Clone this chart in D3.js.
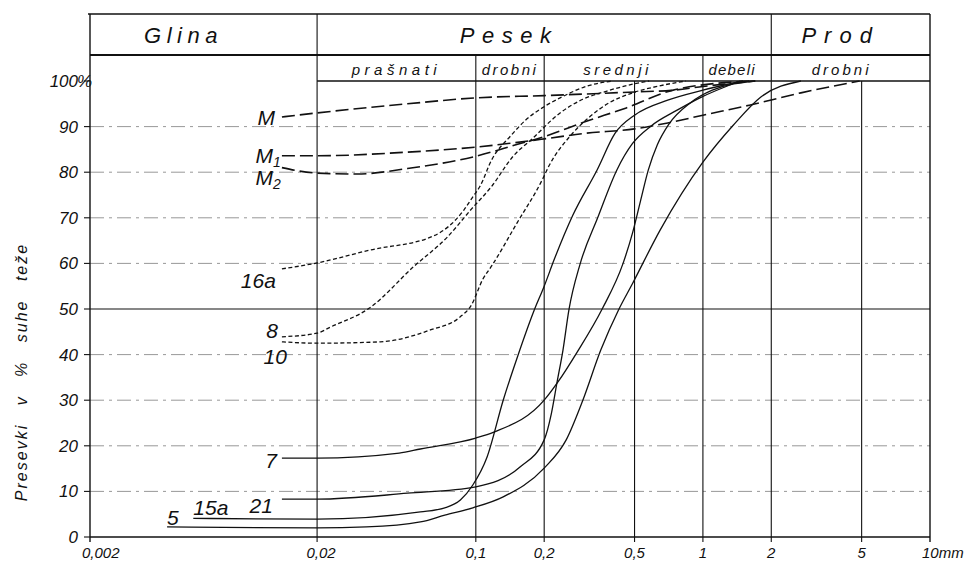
<!DOCTYPE html>
<html><head><meta charset="utf-8">
<script src="https://cdn.jsdelivr.net/npm/d3@7"></script>
<style>
body{margin:0;background:#fff;}
svg{display:block;font-family:"Liberation Sans",Arial,sans-serif;font-style:italic;}
</style></head><body><svg id="c" width="971" height="565"></svg>
<script>
// ---------- data ----------
const xTicks = [0.002, 0.02, 0.1, 0.2, 0.5, 1, 2, 5, 10];
const xTickLabels = ["0,002", "0,02", "0,1", "0,2", "0,5", "1", "2", "5", "10mm"];
const yTicks = [0, 10, 20, 30, 40, 50, 60, 70, 80, 90, 100];
const yTickLabels = ["0", "10", "20", "30", "40", "50", "60", "70", "80", "90", "100"];
const mainCats = ["Glina", "Pesek", "Prod"];
const mainBounds = [0.002, 0.02, 2, 10];
const subCats = ["prašnati", "drobni", "srednji", "debeli", "drobni"];
const subBounds = [0.02, 0.1, 0.2, 1, 2, 10];
const yTitle = "Presevki v % suhe teže";

// grain size (mm), passing (%)
const curveM  = [[0.014,92.1],[0.02,93],[0.05,95],[0.1,96.3],[0.2,96.8],[0.5,97.6],[0.75,98],[1.0,98.8],[1.7,100]];
const curveM1 = [[0.014,83.6],[0.02,83.6],[0.05,84.4],[0.1,85.5],[0.2,87.3],[0.3,88.5],[0.5,89.5],[0.7,90.8],[1.0,92.5],[1.6,94.7],[2.7,97.4],[4.9,100]];
const curveM2 = [[0.014,81],[0.02,79.8],[0.03,79.6],[0.05,80.8],[0.1,83.5],[0.15,86],[0.2,87.8],[0.3,91],[0.46,94.1],[0.74,98],[1.6,100]];
const curve16a = [[0.014,58.8],[0.02,60.1],[0.034,62.9],[0.065,66],[0.0886,71.7],[0.097,74.6],[0.104,76.8],[0.118,82.9],[0.142,87.9],[0.168,91.7],[0.196,94.1],[0.235,96.3],[0.31,98.9],[0.40,100]];
const curve8  = [[0.014,43.9],[0.02,44.7],[0.0228,46],[0.034,50.2],[0.053,59.2],[0.075,65.8],[0.096,72],[0.117,76.8],[0.146,83.5],[0.177,87.3],[0.235,93],[0.296,96],[0.378,97.8],[0.49,99.3],[0.58,100]];
const curve10 = [[0.014,42.8],[0.02,42.5],[0.038,42.8],[0.063,45.4],[0.085,48.2],[0.096,51],[0.107,56.4],[0.118,59.6],[0.152,68.9],[0.196,78.3],[0.21,81.4],[0.26,87.9],[0.32,92.3],[0.38,95],[0.49,97.4],[0.64,98.9],[0.84,100]];
const curve7  = [[0.014,17.3],[0.02,17.3],[0.046,18.4],[0.057,19.3],[0.1,21.7],[0.12,23],[0.2,30],[0.23,34],[0.279,40.5],[0.36,50],[0.445,60],[0.49,66.7],[0.53,73.5],[0.575,80.5],[0.63,86],[0.71,90.6],[0.88,95.2],[1.1,98],[1.7,100]];
const curve21 = [[0.014,8.3],[0.02,8.3],[0.05,9.6],[0.1,11],[0.157,15.4],[0.2,21.3],[0.215,27],[0.228,34],[0.242,41],[0.257,49.8],[0.288,59.9],[0.344,70],[0.418,80.5],[0.49,86.3],[0.59,90.1],[0.77,93.6],[0.97,96.3],[1.46,100]];
const curve15a = [[0.0057,4.1],[0.02,3.9],[0.057,5.5],[0.073,6.4],[0.0855,8.1],[0.097,11.4],[0.112,17.5],[0.132,30],[0.153,39.7],[0.18,49.5],[0.2,55],[0.222,61],[0.267,70.5],[0.342,80.5],[0.41,88.5],[0.5,92.5],[0.7,95.8],[1.0,98],[1.5,100]];
const curve5  = [[0.00437,2.2],[0.02,2],[0.033,2.2],[0.057,3.3],[0.073,4.8],[0.097,6.4],[0.132,8.8],[0.2,15.1],[0.25,21.3],[0.296,30],[0.355,41],[0.425,49.8],[0.49,55.6],[0.648,67.3],[1.0,82.2],[1.36,90.3],[1.8,96.5],[2.7,100]];

const seriesNames = ["M", "M1", "M2", "16a", "8", "10", "7", "21", "15a", "5"];
const seriesData = [curveM, curveM1, curveM2, curve16a, curve8, curve10, curve7, curve21, curve15a, curve5];
const seriesKind = ["long", "long", "long", "short", "short", "short", "solid", "solid", "solid", "solid"];

// ---------- layout ----------
const svg = d3.select("#c");
const x = d3.scaleLog().domain([0.002, 10]).range([90, 930]);
const y = d3.scaleLinear().domain([0, 100]).range([537, 81]);
const TOP = 14, MID = 55;

// grid (dashed horizontal)
svg.append("g").selectAll("line").data(yTicks.filter(v => v > 0 && v < 100 && v !== 50)).join("line")
  .attr("x1", 90).attr("x2", 930).attr("y1", d => y(d)).attr("y2", d => y(d))
  .attr("stroke", "#8c8c8c").attr("stroke-width", 0.9).attr("stroke-dasharray", "14,5,3,5");

const frame = svg.append("g").attr("stroke", "#111").attr("fill", "none");
frame.append("line").attr("x1", 88).attr("x2", 930).attr("y1", TOP).attr("y2", TOP).attr("stroke-width", 1.5);
frame.append("line").attr("x1", 90).attr("x2", 930).attr("y1", MID).attr("y2", MID).attr("stroke-width", 1.8);
frame.append("line").attr("x1", x(0.02)).attr("x2", 930).attr("y1", y(100)).attr("y2", y(100)).attr("stroke-width", 1.3);
frame.append("line").attr("x1", 90).attr("x2", 930).attr("y1", y(50)).attr("y2", y(50)).attr("stroke-width", 1.2);
frame.append("line").attr("x1", 90).attr("x2", 930).attr("y1", y(0)).attr("y2", y(0)).attr("stroke-width", 1.3);
frame.selectAll("line.v").data(xTicks).join("line").attr("class", "v")
  .attr("x1", d => x(d)).attr("x2", d => x(d))
  .attr("y1", d => mainBounds.includes(d) ? TOP : (subBounds.includes(d) ? MID : y(100)))
  .attr("y2", y(0) + 5)
  .attr("stroke-width", d => (d === 0.002 || d === 10) ? 1.4 : 1.1);
frame.selectAll("line.yt").data(yTicks).join("line").attr("class", "yt")
  .attr("x1", 84).attr("x2", 90).attr("y1", d => y(d)).attr("y2", d => y(d)).attr("stroke-width", 1.1);

// y tick labels
const yl = svg.append("g").attr("font-size", 17).attr("fill", "#111");
yl.selectAll("text").data(yTicks).join("text")
  .attr("x", 78).attr("y", d => y(d) + 6).attr("text-anchor", "end")
  .text((d, i) => yTickLabels[i]);
yl.append("text").attr("x", 77).attr("y", y(100) + 6).text("%");

// x tick labels
const xl = svg.append("g").attr("font-size", 15).attr("fill", "#111");
xl.selectAll("text").data(xTicks).join("text")
  .attr("x", (d, i) => (i === 0 || i === xTicks.length - 1) ? x(d) - 8 : x(d) + (i === 1 ? 4 : 0))
  .attr("y", 558)
  .attr("text-anchor", (d, i) => (i === 0 || i === xTicks.length - 1) ? "start" : "middle")
  .text((d, i) => xTickLabels[i]);

// y title
svg.append("text").attr("transform", "translate(27,372) rotate(-90)")
  .attr("text-anchor", "middle").attr("font-size", 16).attr("fill", "#111")
  .attr("letter-spacing", 2).attr("word-spacing", 12).text(yTitle);

// headers
const mainDx = [-20, -35, -10];
const mainLs = [5.5, 7.5, 8];
svg.append("g").attr("font-size", 22).attr("fill", "#111").selectAll("text").data(mainCats).join("text")
  .attr("x", (d, i) => x(Math.sqrt(mainBounds[i] * mainBounds[i + 1])) + mainDx[i])
  .attr("y", 43).attr("text-anchor", "middle").attr("letter-spacing", (d, i) => mainLs[i]).text(d => d);
const subDx = [0, 0, -6, -5, -9];
const subLs = [4.5, 2.5, 3.5, 1.2, 3];
svg.append("g").attr("font-size", 15).attr("fill", "#111").selectAll("text").data(subCats).join("text")
  .attr("x", (d, i) => x(Math.sqrt(subBounds[i] * subBounds[i + 1])) + subDx[i])
  .attr("y", 75).attr("text-anchor", "middle").attr("letter-spacing", (d, i) => subLs[i]).text(d => d);

// curves
const line = d3.line().x(d => x(d[0])).y(d => y(d[1])).curve(d3.curveMonotoneX);
const styles = {
  long: {w: 1.6, dash: "13,5"},
  short: {w: 1.3, dash: "4,2.5"},
  solid: {w: 1.3, dash: null}
};
svg.append("g").selectAll("path").data(seriesData).join("path")
  .attr("d", line).attr("fill", "none").attr("stroke", "#111")
  .attr("stroke-width", (d, i) => styles[seriesKind[i]].w)
  .attr("stroke-dasharray", (d, i) => styles[seriesKind[i]].dash);

// curve labels (offset from each curve's first point)
const lab = {
  "M":   {dx: -7, dy: 8,  a: "end"},
  "M1":  {dx: -1, dy: 7,  a: "end"},
  "M2":  {dx: -1, dy: 17, a: "end"},
  "16a": {dx: -6, dy: 19, a: "end"},
  "8":   {dx: -4, dy: 1,  a: "end"},
  "10":  {dx: 5,  dy: 22, a: "end"},
  "7":   {dx: -5, dy: 10, a: "end"},
  "21":  {dx: -9, dy: 14, a: "end"},
  "15a": {dx: 0,  dy: -3, a: "start"},
  "5":   {dx: 0,  dy: -2, a: "start"}
};
const lg = svg.append("g").attr("font-size", 21).attr("fill", "#111");
seriesNames.forEach((n, i) => {
  const p = seriesData[i][0], L = lab[n];
  const t = lg.append("text").attr("x", x(p[0]) + L.dx).attr("y", y(p[1]) + L.dy).attr("text-anchor", L.a);
  if (n.length === 2 && n[0] === "M") {
    t.append("tspan").text("M");
    t.append("tspan").attr("font-size", 14).attr("dy", 4).text(n[1]);
  } else {
    t.text(n);
  }
});
</script></body></html>
